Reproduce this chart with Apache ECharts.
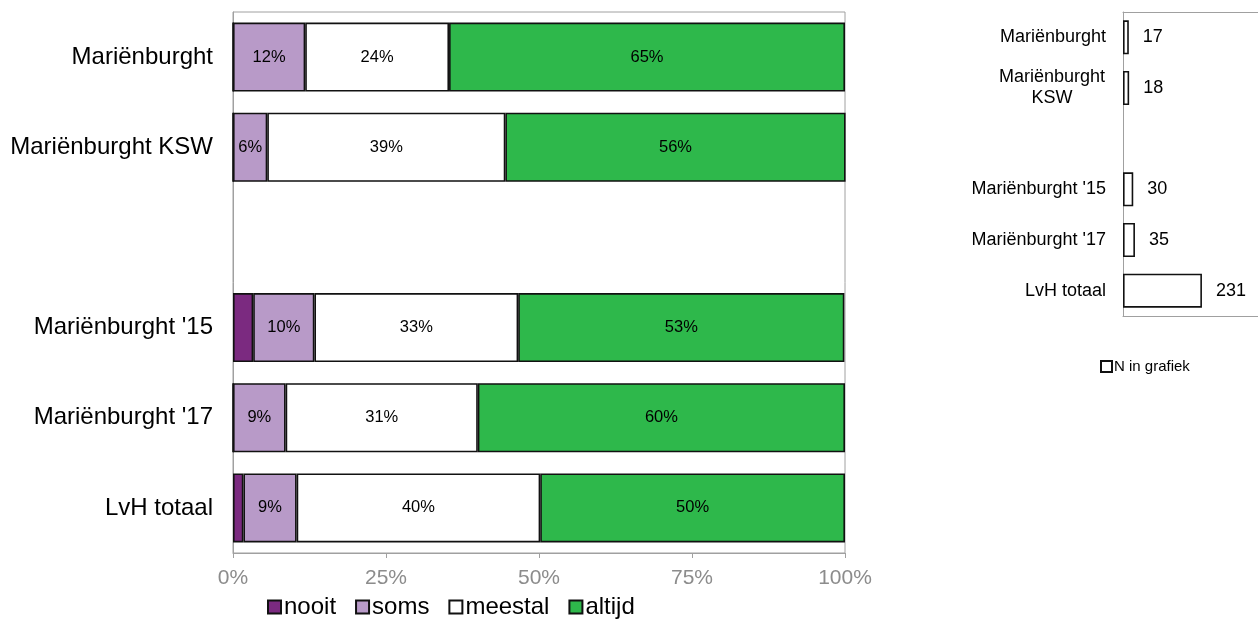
<!DOCTYPE html>
<html><head><meta charset="utf-8">
<script src="https://cdn.jsdelivr.net/npm/echarts@6/dist/echarts.min.js"></script>
<style>html,body{margin:0;padding:0;background:#fff}#c{width:1258px;height:639px}</style>
</head><body><div id="c"></div>
<script>
const categories = ['Mariënburght', 'Mariënburght KSW', '', "Mariënburght '15", "Mariënburght '17", 'LvH totaal'];
const nCategories = ['Mariënburght', 'Mariënburght\nKSW', '', "Mariënburght '15", "Mariënburght '17", 'LvH totaal'];
const nooit   = [0, 0, null, 3.3, 0, 1.7];
const soms    = [11.8, 5.6, null, 10.0, 8.6, 8.7];
const meestal = [23.5, 38.9, null, 33.3, 31.4, 39.8];
const altijd  = [64.7, 55.6, null, 53.3, 60.0, 49.8];
const nValues = [17, 18, null, 30, 35, 231];
const xTicks = [0, 25, 50, 75, 100];

const FONT = 'Liberation Sans, Arial, sans-serif';
const chart = echarts.init(document.getElementById('c'), null, {renderer: 'canvas'});

const pctLabel = {
  show: true, position: 'inside', color: '#000', fontSize: 16.5, fontFamily: FONT,
  formatter: p => (p.value >= 5 ? Math.round(p.value) + '%' : '')
};
function stackSeries(name, data, color) {
  return {
    name, type: 'bar', stack: 'tot', data, barWidth: 69,
    xAxisIndex: 0, yAxisIndex: 0,
    itemStyle: {color, borderColor: '#111', borderWidth: 1.6},
    label: pctLabel, emphasis: {disabled: true}
  };
}
const grayLine = {show: true, lineStyle: {color: '#a0a0a0', width: 1}};

chart.setOption({
  animation: false,
  textStyle: {fontFamily: FONT},
  grid: [
    {left: 233, top: 12, width: 612, height: 541, show: true, borderColor: '#a0a0a0', borderWidth: 1},
    {left: 1123, top: 12, width: 135, height: 304, show: false}
  ],
  legend: [
    {data: ['nooit', 'soms', 'meestal', 'altijd'], left: 262, top: 590, itemWidth: 13, itemHeight: 13,
     itemGap: 19, textStyle: {fontSize: 24, color: '#000', fontFamily: FONT, padding: [0, 0, 0, -2]}, icon: 'rect'},
    {data: ['N in grafiek'], left: 1095, top: 354, itemWidth: 11, itemHeight: 11,
     textStyle: {fontSize: 15, color: '#000', fontFamily: FONT, padding: [0, 0, 0, -3]}, icon: 'rect'}
  ],
  xAxis: [
    {gridIndex: 0, type: 'value', min: 0, max: 100, interval: 25,
     axisLine: grayLine,
     axisTick: {show: true, length: 5, lineStyle: {color: '#a0a0a0'}},
     splitLine: {show: false},
     axisLabel: {formatter: '{value}%', color: '#8c8c8c', fontSize: 21, margin: 15, fontFamily: FONT}},
    {gridIndex: 1, type: 'value', min: 0, max: 395, position: 'bottom', axisLine: grayLine,
     axisTick: {show: false}, axisLabel: {show: false}, splitLine: {show: false}},
    {gridIndex: 1, type: 'value', min: 0, max: 395, position: 'top', axisLine: grayLine,
     axisTick: {show: false}, axisLabel: {show: false}, splitLine: {show: false}}
  ],
  yAxis: [
    {gridIndex: 0, type: 'category', data: categories, inverse: true,
     axisLine: grayLine, axisTick: {show: false},
     axisLabel: {color: '#000', fontSize: 24, margin: 20, fontFamily: FONT}},
    {gridIndex: 1, type: 'category', data: nCategories, inverse: true,
     axisLine: grayLine, axisTick: {show: false},
     axisLabel: {color: '#000', fontSize: 18, margin: 17, fontFamily: FONT, lineHeight: 21,
       formatter: v => v.indexOf('\n') >= 0 ? v.split('\n').map(s => '{c|' + s + '}').join('\n') : v,
       rich: {c: {width: 108, align: 'center', fontSize: 18, lineHeight: 21, fontFamily: FONT, color: '#000'}}}}
  ],
  series: [
    stackSeries('nooit', nooit, '#7b2a80'),
    stackSeries('soms', soms, '#b89ac8'),
    stackSeries('meestal', meestal, '#ffffff'),
    stackSeries('altijd', altijd, '#2eb84b'),
    {name: 'N in grafiek', type: 'bar', data: nValues, barWidth: 34, xAxisIndex: 1, yAxisIndex: 1,
     itemStyle: {color: '#fff', borderColor: '#111', borderWidth: 1.6},
     label: {show: true, position: 'right', distance: 14, color: '#000', fontSize: 18, fontFamily: FONT},
     emphasis: {disabled: true}}
  ]
});
</script>
</body></html>
